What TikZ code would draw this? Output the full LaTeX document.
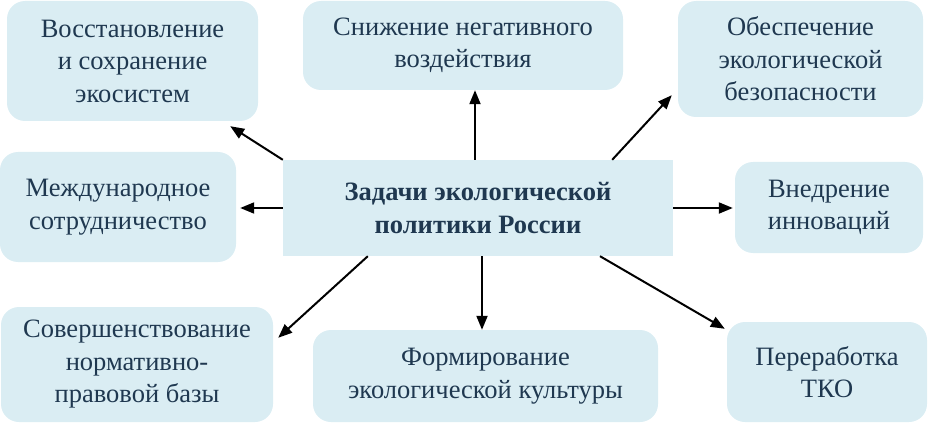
\documentclass[tikz,border=0pt]{standalone}
\usepackage{fontspec}
\setmainfont{Liberation Serif}
\usetikzlibrary{arrows.meta,calc}
\definecolor{boxfill}{HTML}{DAEDF3}
\definecolor{txt}{HTML}{1F3850}
\begin{document}
\begin{tikzpicture}[x=1pt,y=-1pt,
 task/.style={fill=boxfill, rounded corners=18pt, inner sep=0pt, align=center, text=txt,
   font=\fontsize{26.5}{32.5}\selectfont},
 hub/.style={fill=boxfill, inner sep=0pt, align=center, text=txt,
   font=\fontsize{26.5}{32.5}\selectfont\bfseries},
 link/.style={-{Triangle[length=14pt,width=11pt]}, line width=2pt, black}]
\useasboundingbox (0,0) rectangle (929,425);

\node[task, minimum width=251pt, minimum height=120pt] (b1) at (132.5,61) {Восстановление\\и сохранение\\экосистем};
\node[task, minimum width=320pt, minimum height=89pt] (b2) at (463,45.5) {Снижение негативного\\воздействия};
\node[task, minimum width=245pt, minimum height=116pt] (b3) at (800.5,59) {Обеспечение\\экологической\\безопасности};
\node[task, minimum width=236pt, minimum height=110pt] (b4) at (118,207) {Международное\\сотрудничество};
\node[hub, minimum width=390pt, minimum height=96pt] (c) at (478,208) {Задачи экологической\\политики России};
\node[task, minimum width=188pt, minimum height=91pt] (b6) at (829,207.5) {Внедрение\\инноваций};
\node[task, minimum width=272pt, minimum height=115pt] (b7) at (137,364.5) {Совершенствование\\нормативно-\\правовой базы};
\node[task, minimum width=345pt, minimum height=92pt] (b8) at (485.5,376) {Формирование\\экологической культуры};
\node[task, minimum width=200pt, minimum height=100pt] (b9) at (827,372) {Переработка\\ТКО};

\coordinate (s2) at ($(c.north)+(-3,0)$);
\coordinate (s8) at ($(c.south)+(4,0)$);

\draw[link] (c.north west) -- ($(b1.south east)+(-28,5)$);
\draw[link] (s2) -- (s2 |- b2.south);
\draw[link] ($(c.north east)+(-61,0)$) -- ($(b3.south west)+(-6,-22)$);
\draw[link] (c.west) -- ($(b4.east |- c.west)+(4,0)$);
\draw[link] (c.east) -- ($(b6.west |- c.east)+(-2,0)$);
\draw[link] ($(c.south west)+(85,0)$) -- ($(b7.north east)+(5,31)$);
\draw[link] (s8) -- (s8 |- b8.north);
\draw[link] ($(c.south)+(122,0)$) -- ($(b9.north west)+(-2,7)$);
\end{tikzpicture}
\end{document}
